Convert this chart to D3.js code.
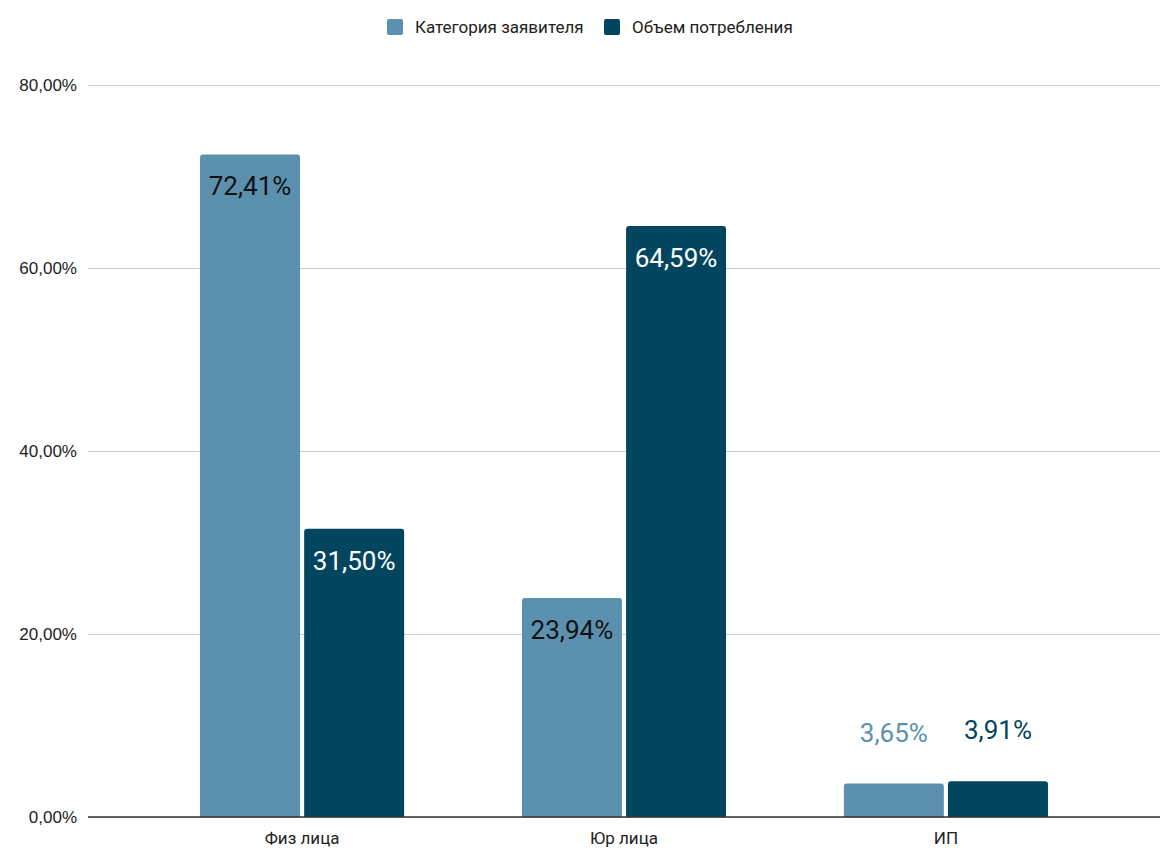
<!DOCTYPE html>
<html>
<head>
<meta charset="utf-8">
<script src="https://cdn.jsdelivr.net/npm/d3@7"></script>
<style>
  html, body { margin: 0; padding: 0; background: #fff; }
  svg { display: block; font-family: Roboto, "Noto Sans", sans-serif; }
</style>
</head>
<body>
<svg id="chart" width="1163" height="854"></svg>
<script>
// Data
const categories = ["Физ лица", "Юр лица", "ИП"];
const seriesNames = ["Категория заявителя", "Объем потребления"];
const applicantShare = [72.41, 23.94, 3.65];
const consumptionShare = [31.50, 64.59, 3.91];
const yTicks = [0, 20, 40, 60, 80];
const seriesColors = ["#5b91ae", "#02455f"];

const seriesValues = [applicantShare, consumptionShare];
const fmt = v => v.toFixed(2).replace(".", ",") + "%";

const svg = d3.select("#chart");
const plotLeft = 88, plotRight = 1160, plotTop = 85, plotBottom = 817;

const y = d3.scaleLinear().domain([0, 80]).range([plotBottom, plotTop]);
const x0 = d3.scaleBand().domain(categories).range([plotLeft, plotRight])
  .paddingInner(0.366).paddingOuter(0.348);
const x1 = d3.scaleBand().domain(seriesNames).range([0, x0.bandwidth()])
  .paddingInner(0.04);

// Gridlines and y labels
const yAxis = d3.axisLeft(y).tickValues(yTicks)
  .tickSize(-(plotRight - plotLeft)).tickPadding(10)
  .tickFormat(d => d.toFixed(2).replace(".", ",") + "%");
const gy = svg.append("g").attr("transform", `translate(${plotLeft},0)`).call(yAxis);
gy.select(".domain").remove();
gy.selectAll(".tick line").attr("stroke", "#cccccc").attr("stroke-width", 1);
gy.selectAll(".tick text").attr("fill", "#222").style("font-size", "17px")
  .attr("x", -11);

// Bars with rounded tops
function barPath(x, yTop, w, h, r) {
  r = Math.min(r, h, w / 2);
  return `M${x},${yTop + h}V${yTop + r}Q${x},${yTop} ${x + r},${yTop}` +
    `H${x + w - r}Q${x + w},${yTop} ${x + w},${yTop + r}V${yTop + h}Z`;
}

const groups = svg.append("g").selectAll("g").data(categories).join("g")
  .attr("transform", d => `translate(${x0(d)},0)`);

groups.each(function (cat, ci) {
  const g = d3.select(this);
  seriesNames.forEach((s, si) => {
    const v = seriesValues[si][ci];
    const bx = x1(s), bw = x1.bandwidth();
    const yt = y(v), h = plotBottom - yt;
    g.append("path").attr("d", barPath(bx, yt, bw, h, 3))
      .attr("fill", seriesColors[si]);
    const inside = h > 60;
    g.append("text")
      .attr("x", bx + bw / 2)
      .attr("y", inside ? yt + 41 : yt - 42)
      .attr("text-anchor", "middle")
      .style("font-size", "26px")
      .attr("fill", inside ? (si === 0 ? "#111" : "#ffffff") : seriesColors[si])
      .text(fmt(v));
  });
});

// Baseline
svg.append("line").attr("x1", plotLeft).attr("x2", plotRight)
  .attr("y1", plotBottom).attr("y2", plotBottom)
  .attr("stroke", "#333").attr("stroke-width", 1.5);

// Category labels
const xAxis = d3.axisBottom(x0).tickSize(0).tickPadding(15);
const gx = svg.append("g").attr("transform", `translate(0,${plotBottom})`).call(xAxis);
gx.select(".domain").remove();
gx.selectAll(".tick text").attr("fill", "#222").style("font-size", "17px")
  .style("font-family", "Roboto, sans-serif");

// Legend
const legendX = [387, 604];
const legend = svg.append("g");
seriesNames.forEach((s, i) => {
  legend.append("rect").attr("x", legendX[i]).attr("y", 19)
    .attr("width", 16).attr("height", 16).attr("rx", 2)
    .attr("fill", seriesColors[i]);
  legend.append("text").attr("x", legendX[i] + 28).attr("y", 33)
    .style("font-size", "17px").attr("fill", "#222").text(s);
});
</script>
</body>
</html>
